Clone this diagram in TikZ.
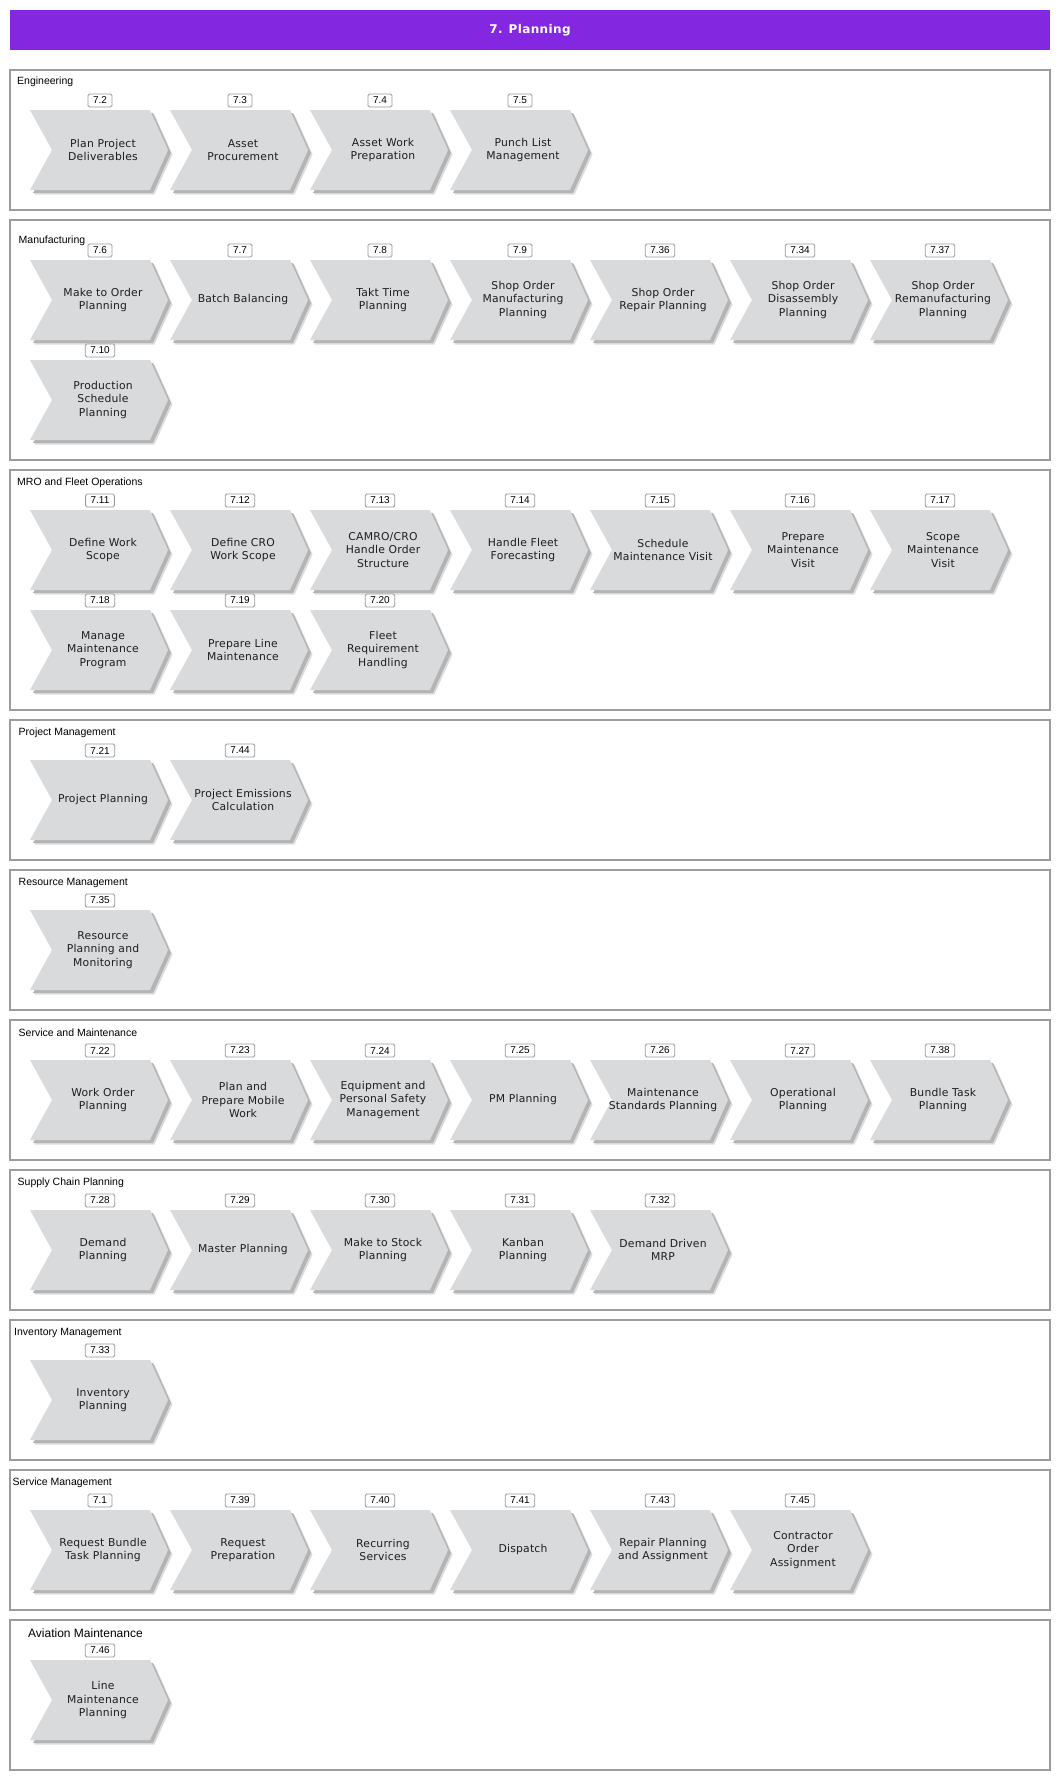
\documentclass[tikz,border=0pt]{standalone}
\usepackage{fontspec}
\newfontfamily\chevfont[LetterSpace=2]{DejaVu Sans}
\newfontfamily\titlefont[LetterSpace=3]{DejaVu Sans}
\newfontfamily\labfont{Liberation Sans}
\definecolor{titlebg}{HTML}{8427E0}
\definecolor{chevfill}{HTML}{D9DADC}
\definecolor{chevshadow}{HTML}{B4B4B4}
\definecolor{framegray}{HTML}{9C9C9C}
\definecolor{tagborder}{HTML}{9A9A9A}
\definecolor{chevink}{HTML}{1E1E1E}
\tikzset{
  sectionbox/.style={draw=framegray, line width=1.6pt},
  secttitle/.style={anchor=west, font=\labfont\fontsize{10.5}{12}\selectfont, inner sep=0pt},
  bigsecttitle/.style={anchor=west, font=\labfont\fontsize{12}{14}\selectfont, inner sep=0pt},
  chevtext/.style={align=center, font=\chevfont\fontsize{10.8}{13.3}\selectfont, inner sep=0pt, text=chevink},
  tagbox/.style={draw=tagborder, fill=white, rounded corners=1.5pt, minimum height=13pt,
    inner xsep=5pt, inner ysep=0pt, font=\labfont\fontsize{10}{11}\selectfont, line width=0.8pt},
  titletext/.style={text=white, font=\titlefont\bfseries\fontsize{12}{14}\selectfont, inner sep=0pt},
  chevbody/.style={fill=chevfill},
  chevshade/.style={fill=chevshadow},
}
% #1 name, #2 x left, #3 y top, #4 number, #5 text
\newcommand{\chev}[5]{%
  \fill[chevshade, opacity=0.45] ({#2+4.5},{#3+4.5}) -- ({#2+124.5},{#3+4.5}) -- ({#2+142.5},{#3+44.5}) -- ({#2+124.5},{#3+84.5}) -- ({#2+4.5},{#3+84.5}) -- ({#2+26.5},{#3+44.5}) -- cycle;
  \fill[chevshade] ({#2+3},{#3+3}) -- ({#2+123},{#3+3}) -- ({#2+141},{#3+43}) -- ({#2+123},{#3+83}) -- ({#2+3},{#3+83}) -- ({#2+25},{#3+43}) -- cycle;
  \fill[chevbody] (#2,#3) -- ({#2+120},#3) -- ({#2+138},{#3+40}) -- ({#2+120},{#3+80}) -- (#2,{#3+80}) -- ({#2+22},{#3+40}) -- cycle;
  \node[chevtext] (#1) at ({#2+73},{#3+40}) {#5};
  \node[tagbox] (#1n) at ({#2+70},{#3-9.5}) {#4};
}
% #1 name, #2 top, #3 bottom, #4 label x, #5 label, #6 style, #7 label y offset
\newcommand{\sect}[7]{%
  \draw[sectionbox] (10,#2) rectangle (1050,#3);
  \node[#6] (#1) at (#4,{#2+#7}) {#5};
}
\begin{document}
\begin{tikzpicture}[x=1pt,y=-1pt]
\useasboundingbox (0,0) rectangle (1060,1780);
\fill[titlebg] (10,10) rectangle (1050,50);
\node[titletext] (title) at (530,30) {7. Planning};

% Engineering
\sect{sEng}{70}{210}{17}{Engineering}{secttitle}{11.5}
\chev{cA}{30}{110}{7.2}{Plan Project\\Deliverables}
\chev{cB}{170}{110}{7.3}{Asset\\Procurement}
\chev{cC}{310}{110}{7.4}{Asset Work\\Preparation}
\chev{cD}{450}{110}{7.5}{Punch List\\Management}

% Manufacturing
\sect{sMan}{220}{460}{18.5}{Manufacturing}{secttitle}{20.5}
\chev{cE}{30}{260}{7.6}{Make to Order\\Planning}
\chev{cF}{170}{260}{7.7}{Batch Balancing}
\chev{cG}{310}{260}{7.8}{Takt Time\\Planning}
\chev{cH}{450}{260}{7.9}{Shop Order\\Manufacturing\\Planning}
\chev{cI}{590}{260}{7.36}{Shop Order\\Repair Planning}
\chev{cJ}{730}{260}{7.34}{Shop Order\\Disassembly\\Planning}
\chev{cK}{870}{260}{7.37}{Shop Order\\Remanufacturing\\Planning}
\chev{cL}{30}{360}{7.10}{Production\\Schedule\\Planning}

% MRO and Fleet Operations
\sect{sMro}{470}{710}{17}{MRO and Fleet Operations}{secttitle}{13}
\chev{cM}{30}{510}{7.11}{Define Work\\Scope}
\chev{cN}{170}{510}{7.12}{Define CRO\\Work Scope}
\chev{cO}{310}{510}{7.13}{CAMRO/CRO\\Handle Order\\Structure}
\chev{cP}{450}{510}{7.14}{Handle Fleet\\Forecasting}
\chev{cQ}{590}{510}{7.15}{Schedule\\Maintenance Visit}
\chev{cR}{730}{510}{7.16}{Prepare\\Maintenance\\Visit}
\chev{cS}{870}{510}{7.17}{Scope\\Maintenance\\Visit}
\chev{cT}{30}{610}{7.18}{Manage\\Maintenance\\Program}
\chev{cU}{170}{610}{7.19}{Prepare Line\\Maintenance}
\chev{cV}{310}{610}{7.20}{Fleet\\Requirement\\Handling}

% Project Management
\sect{sPm}{720}{860}{18.5}{Project Management}{secttitle}{13}
\chev{cW}{30}{760}{7.21}{Project Planning}
\chev{cX}{170}{760}{7.44}{Project Emissions\\Calculation}

% Resource Management
\sect{sRes}{870}{1010}{18.5}{Resource Management}{secttitle}{13}
\chev{cY}{30}{910}{7.35}{Resource\\Planning and\\Monitoring}

% Service and Maintenance
\sect{sSm}{1020}{1160}{18.5}{Service and Maintenance}{secttitle}{13}
\chev{dA}{30}{1060}{7.22}{Work Order\\Planning}
\chev{dB}{170}{1060}{7.23}{Plan and\\Prepare Mobile\\Work}
\chev{dC}{310}{1060}{7.24}{Equipment and\\Personal Safety\\Management}
\chev{dD}{450}{1060}{7.25}{PM Planning}
\chev{dE}{590}{1060}{7.26}{Maintenance\\Standards Planning}
\chev{dF}{730}{1060}{7.27}{Operational\\Planning}
\chev{dG}{870}{1060}{7.38}{Bundle Task\\Planning}

% Supply Chain Planning
\sect{sScp}{1170}{1310}{17.5}{Supply Chain Planning}{secttitle}{13}
\chev{dH}{30}{1210}{7.28}{Demand\\Planning}
\chev{dI}{170}{1210}{7.29}{Master Planning}
\chev{dJ}{310}{1210}{7.30}{Make to Stock\\Planning}
\chev{dK}{450}{1210}{7.31}{Kanban\\Planning}
\chev{dL}{590}{1210}{7.32}{Demand Driven\\MRP}

% Inventory Management
\sect{sInv}{1320}{1460}{14}{Inventory Management}{secttitle}{13}
\chev{dM}{30}{1360}{7.33}{Inventory\\Planning}

% Service Management
\sect{sSvc}{1470}{1610}{12.5}{Service Management}{secttitle}{12.5}
\chev{dN}{30}{1510}{7.1}{Request Bundle\\Task Planning}
\chev{dO}{170}{1510}{7.39}{Request\\Preparation}
\chev{dP}{310}{1510}{7.40}{Recurring\\Services}
\chev{dQ}{450}{1510}{7.41}{Dispatch}
\chev{dR}{590}{1510}{7.43}{Repair Planning\\and Assignment}
\chev{dS}{730}{1510}{7.45}{Contractor\\Order\\Assignment}

% Aviation Maintenance
\sect{sAvi}{1620}{1770}{28}{Aviation Maintenance}{bigsecttitle}{13}
\chev{dT}{30}{1660}{7.46}{Line\\Maintenance\\Planning}
\end{tikzpicture}
\end{document}
